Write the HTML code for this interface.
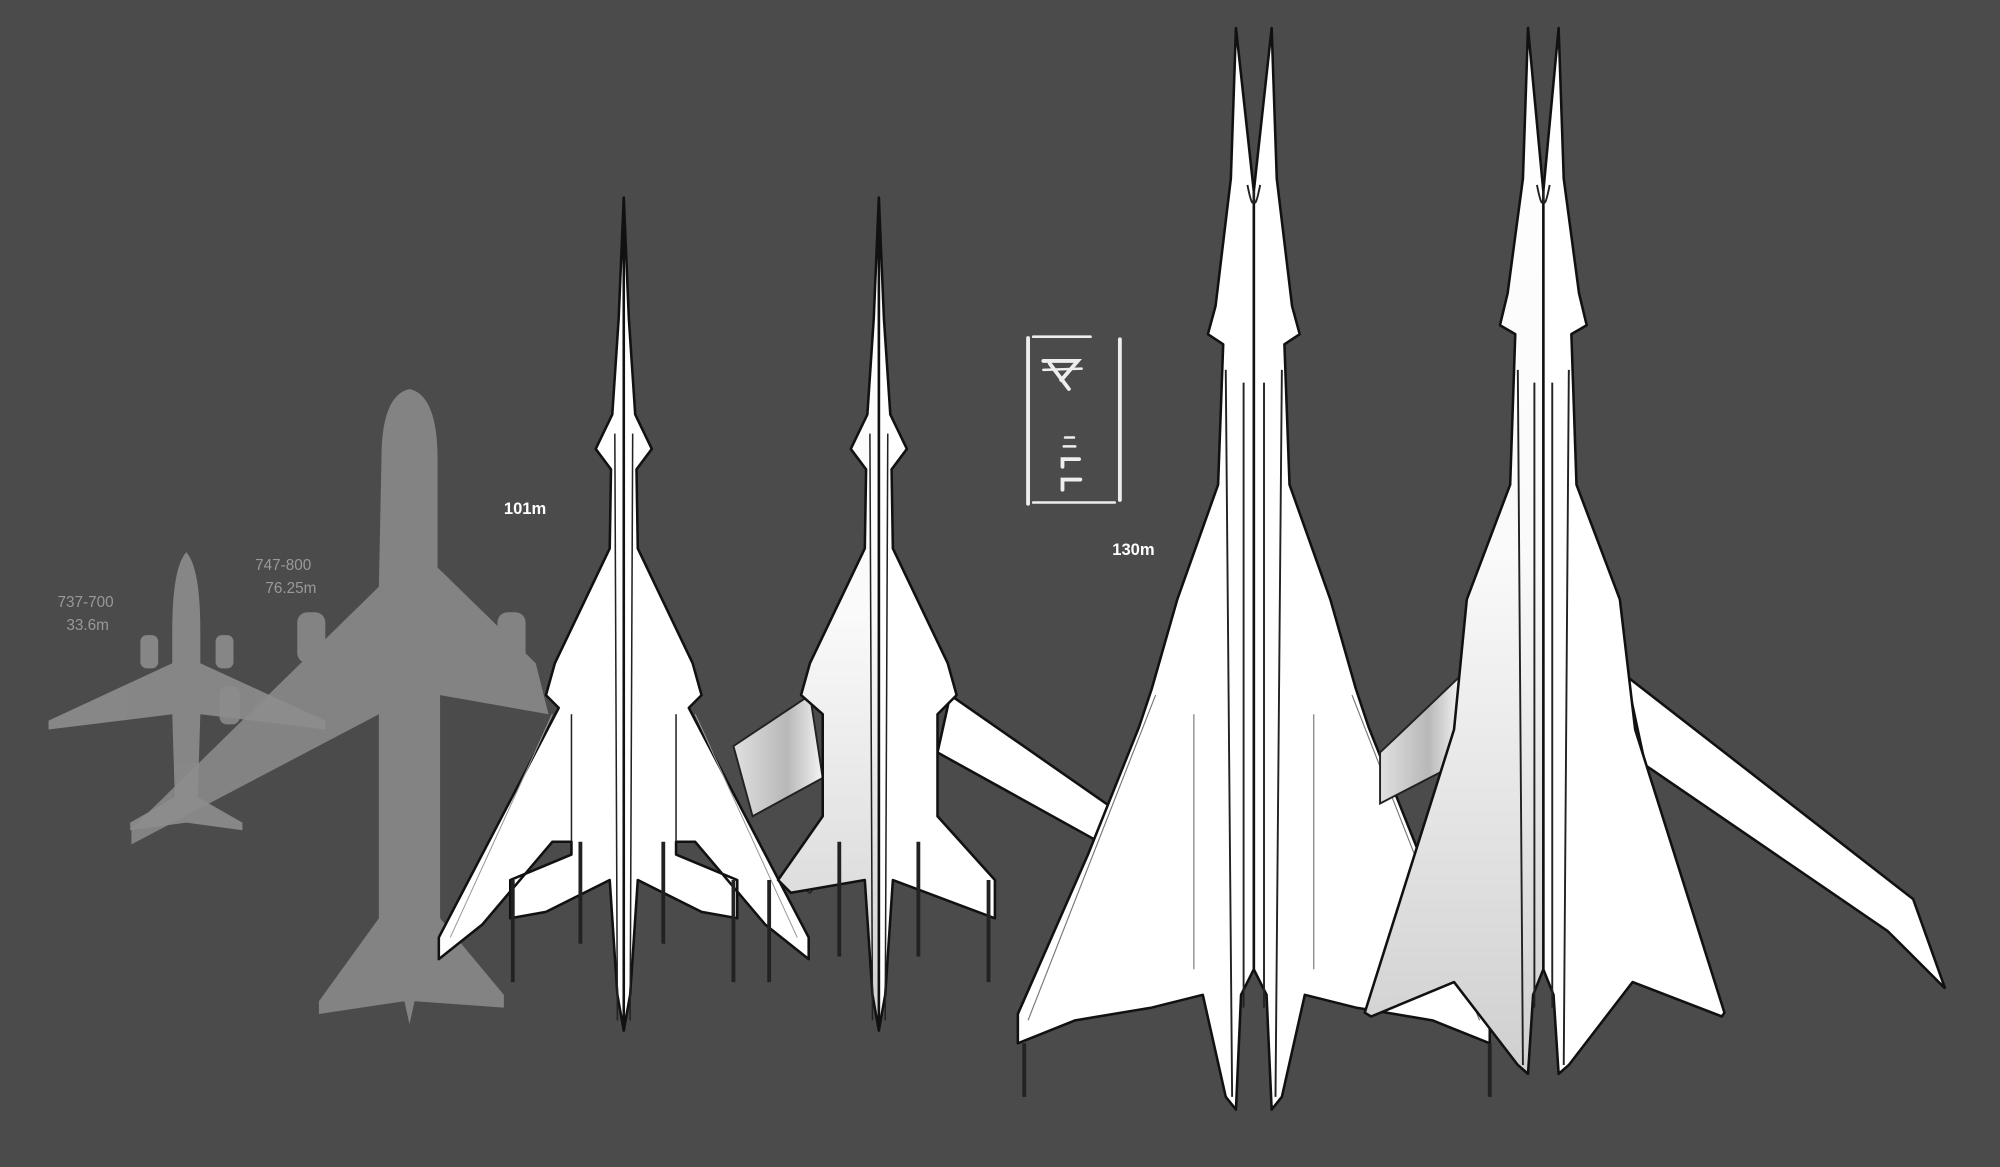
<!DOCTYPE html>
<html><head><meta charset="utf-8"><style>
html,body{margin:0;padding:0;background:#4b4b4b;}
svg{display:block}
text{font-family:"Liberation Sans",sans-serif;}
</style></head><body>
<svg width="2000" height="1167" viewBox="0 0 1568 915" xmlns="http://www.w3.org/2000/svg">
<defs>
<linearGradient id="gw" x1="0" y1="0" x2="1" y2="0"><stop offset="0" stop-color="#e0e0e0"/><stop offset="0.6" stop-color="#b8b8b8"/><stop offset="1" stop-color="#f4f4f4"/></linearGradient>
<linearGradient id="gw2" x1="0" y1="0" x2="0" y2="1"><stop offset="0" stop-color="#ffffff"/><stop offset="0.5" stop-color="#fafafa"/><stop offset="1" stop-color="#cfcfcf"/></linearGradient>
</defs>
<rect width="1568" height="915" fill="#4b4b4b"/>

<g fill="#8a8a8a" opacity="0.95">
<path d="M146,433 Q157,445 157,495 L157,520 L255,565 L255,572 L157,560 L155,625 L190,645 L190,651 L146,645 L102,651 L102,645 L137,625 L135,560 L38,572 L38,565 L135,520 L135,495 Q135,445 146,433 Z"/>
<rect x="110" y="498" width="14" height="26" rx="5"/><rect x="169" y="498" width="14" height="26" rx="5"/>
</g>
<g fill="#8d8d8d" opacity="0.85">
<path d="M321,305 Q343,310 343,360 L343,445 L420,520 L430,560 L345,545 L345,720 L395,780 L395,790 L325,785 L321,803 L317,785 L250,795 L250,785 L297,720 L297,560 L103,662 L103,650 L297,460 L299,360 Q299,310 321,305 Z"/>
<rect x="233" y="480" width="22" height="40" rx="8"/><rect x="390" y="480" width="22" height="40" rx="8"/>
<rect x="172" y="538" width="16" height="30" rx="6"/>
</g>
<g fill="#999" font-size="12">
<text x="45" y="476">737-700</text><text x="52" y="494">33.6m</text>
<text x="200" y="447">747-800</text><text x="208" y="465">76.25m</text>
</g>
<text x="395" y="403" fill="#fff" font-size="13" font-weight="bold">101m</text>
<text x="872" y="435" fill="#fff" font-size="13" font-weight="bold">130m</text>

<g stroke="#eee" stroke-width="3" fill="none" stroke-linecap="round">
<line x1="806" y1="265" x2="806" y2="395"/><line x1="878" y1="266" x2="878" y2="392"/>
<line x1="810" y1="264" x2="855" y2="264" stroke-width="2"/><line x1="810" y1="394" x2="874" y2="394" stroke-width="2"/>
<path d="M818,283 L845,283 L832,298"/><line x1="818" y1="290" x2="848" y2="289" stroke-width="2"/><line x1="823" y1="285" x2="838" y2="305"/>
<line x1="835" y1="343" x2="842" y2="343" stroke-width="2"/><line x1="834" y1="350" x2="843" y2="350" stroke-width="2"/>
<path d="M833,366 L833,360 L846,360"/><path d="M833,384 L833,376 L847,376"/>
</g>

<path d="M635,545 L575,585 L590,640 L645,610 Z" fill="url(#gw)" stroke="#222" stroke-width="1.5"/>
<path d="M645,640 L620,690 L635,700 L650,680 Z" fill="url(#gw)" stroke="#222" stroke-width="1.5"/>

<g id="ha" fill="#fff" stroke="#111" stroke-width="2" stroke-linejoin="round">
<path d="M489,155 L493,250 L498,325 L511,352 L499,368 L500,430 L543,520 L550,545 L540,555 L634,735 L634,752 L600,725 L545,660 L530,660 L530,670 L578,690 L578,720 L550,715 L500,690 L494,780 L489,808 Z"/>
</g>
<use href="#ha" transform="translate(978,0) scale(-1,1)"/>
<g stroke="#222" stroke-width="1.2" fill="none">
<line x1="482" y1="340" x2="484" y2="800"/><line x1="496" y1="340" x2="494" y2="800"/>
<line x1="530" y1="560" x2="530" y2="660"/><line x1="448" y1="560" x2="448" y2="660"/>
<path d="M455,660 L455,740 M520,660 L520,740 M575,690 L575,770 M402,690 L402,770" stroke-width="3"/>
<path d="M545,560 L625,735 M433,560 L353,735" stroke="#999" stroke-width="0.8"/>
</g>

<path d="M745,545 L870,632 L865,662 L735,590 Z" fill="#fff" stroke="#111" stroke-width="2"/>
<g fill="#fff" stroke="#111" stroke-width="2" stroke-linejoin="round">
<path d="M689,155 L693,250 L698,325 L711,352 L699,368 L700,430 L743,520 L750,545 L735,560 L735,640 L780,690 L780,720 L700,690 L694,780 L689,808 Z"/>
<path d="M689,155 L685,250 L680,325 L667,352 L679,368 L678,430 L635,520 L628,545 L645,560 L645,640 L610,690 L620,700 L678,690 L684,780 L689,808 Z" fill="url(#gw2)"/>
</g>
<g stroke="#222" stroke-width="1.2" fill="none">
<line x1="682" y1="340" x2="684" y2="800"/><line x1="696" y1="340" x2="694" y2="800"/>
<path d="M658,660 L658,750 M720,660 L720,750 M775,690 L775,770 M603,690 L603,770" stroke-width="3"/>
</g>

<g id="hc" fill="#fff" stroke="#111" stroke-width="2" stroke-linejoin="round">
<path d="M983,150 L997,22 L1001,140 L1013,240 L1019,262 L1007,270 L1011,380 L1043,470 L1063,540 L1073,570 L1113,670 L1168,795 L1168,818 L1123,800 L1063,790 L1023,780 L1005,860 L997,870 L993,780 L983,760 Z"/>
</g>
<use href="#hc" transform="translate(1966,0) scale(-1,1)"/>
<g stroke="#222" stroke-width="1.5" fill="none">
<line x1="961" y1="290" x2="966" y2="860"/><line x1="1005" y1="290" x2="1000" y2="860"/>
<line x1="975" y1="300" x2="975" y2="790"/><line x1="991" y1="300" x2="991" y2="790"/>
<path d="M983,150 Q983,170 978,145 M983,150 Q983,170 988,145"/>
<path d="M1060,545 L1160,800 M906,545 L806,800 M1030,560 L1030,760 M936,560 L936,760" stroke="#777" stroke-width="0.9"/>
<path d="M803,818 L803,860 M1168,818 L1168,860" stroke-width="3"/>
</g>

<path d="M1145,530 L1082,590 L1082,630 L1140,600 Z" fill="url(#gw)" stroke="#222" stroke-width="1.5"/>
<path d="M1275,530 L1500,705 L1525,775 L1480,730 L1290,600 Z" fill="#fff" stroke="#111" stroke-width="2"/>
<g fill="#fff" stroke="#111" stroke-width="2" stroke-linejoin="round">
<path d="M1210,150 L1222,22 L1226,140 L1238,230 L1244,255 L1232,262 L1236,380 L1270,470 L1282,572 L1352,794 L1350,797 L1280,770 L1230,835 L1222,842 L1218,780 L1210,760 Z"/>
<path d="M1210,150 L1198,22 L1194,140 L1182,230 L1176,255 L1188,262 L1184,380 L1150,470 L1140,572 L1070,794 L1075,797 L1140,770 L1190,835 L1198,842 L1202,780 L1210,760 Z" fill="url(#gw2)"/>
</g>
<g stroke="#222" stroke-width="1.5" fill="none">
<line x1="1190" y1="290" x2="1194" y2="835"/><line x1="1230" y1="290" x2="1226" y2="835"/>
<line x1="1203" y1="300" x2="1203" y2="790"/><line x1="1217" y1="300" x2="1217" y2="790"/>
<path d="M1210,150 Q1210,170 1205,145 M1210,150 Q1210,170 1215,145"/>
</g>
</svg>
</body></html>
